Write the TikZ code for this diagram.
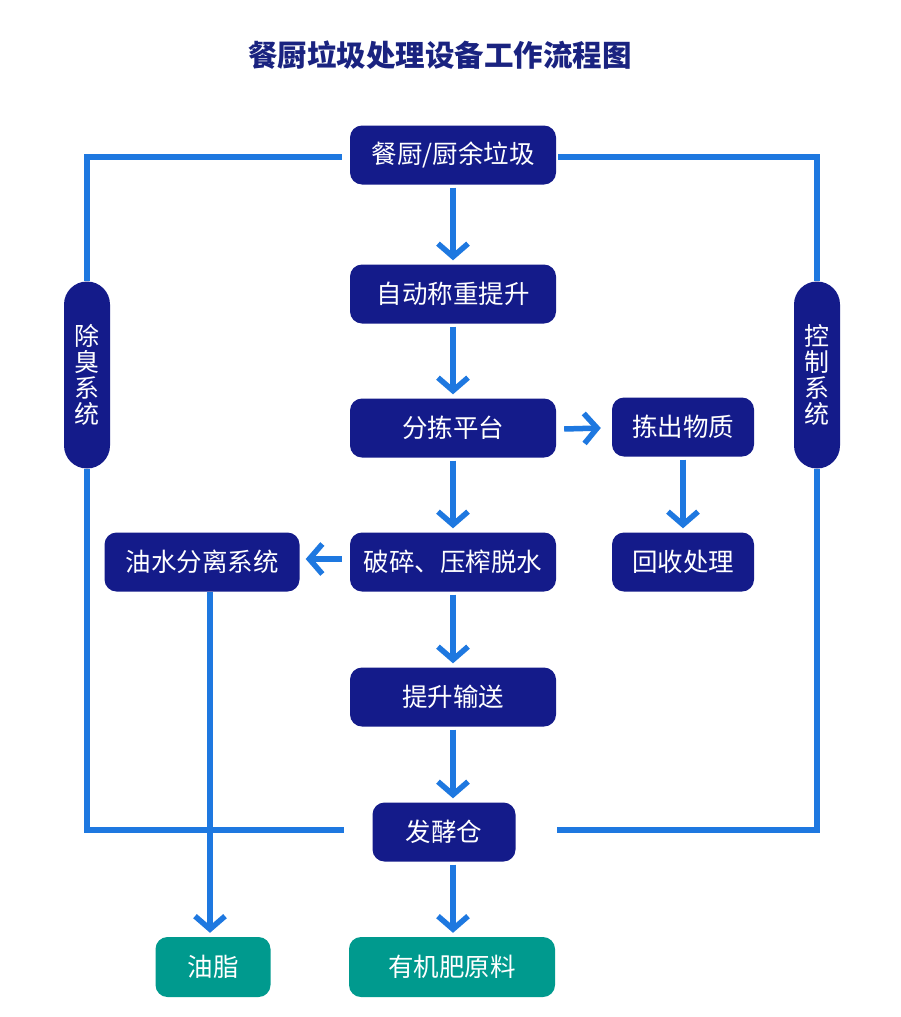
\documentclass[tikz,border=0pt]{standalone}
\usepackage{fontspec}
\setmainfont{Noto Sans CJK SC}
\usetikzlibrary{arrows.meta,calc}
\definecolor{navy}{HTML}{141B8A}
\definecolor{lineblue}{HTML}{1E78E0}
\definecolor{teal2}{HTML}{009A8E}
\definecolor{titlec}{HTML}{1A2380}
\begin{document}
\begin{tikzpicture}[x=1pt,y=-1pt,
  box/.style={fill=navy,text=white,rounded corners=12pt,minimum height=59pt,inner sep=0pt,font=\fontsize{25.5}{28}\selectfont},
  gbox/.style={box,fill=teal2},
  pill/.style={fill=navy,text=white,rounded corners=23pt,minimum width=46pt,minimum height=187pt,inner sep=0pt,font=\fontsize{25}{26}\selectfont,align=center},
  flow/.style={draw=lineblue,line width=5.5pt,-{Straight Barb[length=13pt,width=30pt,line width=5.5pt]}},
  link/.style={draw=lineblue,line width=5.5pt}]
\path[fill=white,use as bounding box] (0,0) rectangle (900,1017);
\node[text=titlec,font=\bfseries\fontsize{29.5}{32}\selectfont] (title) at (440,55) {餐厨垃圾处理设备工作流程图};
\node[box,minimum width=206pt] (n1) at (453,155) {餐厨/厨余垃圾};
\node[box,minimum width=206pt] (n2) at (453,294) {自动称重提升};
\node[box,minimum width=206pt] (n3) at (453,428) {分拣平台};
\node[box,minimum width=142pt] (n4) at (683,427) {拣出物质};
\node[box,minimum width=142pt] (n5) at (683,562) {回收处理};
\node[box,minimum width=206pt] (n6) at (453,562) {破碎、压榨脱水};
\node[box,minimum width=195pt] (n7) at (202,562) {油水分离系统};
\node[box,minimum width=206pt] (n8) at (453,697) {提升输送};
\node[box,minimum width=143pt] (n9) at (444,832) {发酵仓};
\node[gbox,minimum width=115pt,minimum height=60pt] (n10) at (213,967) {油脂};
\node[gbox,minimum width=206pt,minimum height=60pt] (n11) at (452,967) {有机肥原料};
\node[pill] (lp) at (87,375) {除\\臭\\系\\统};
\node[pill] (rp) at (817,375) {控\\制\\系\\统};
% flow arrows
\draw[flow] ($(n1.south)+(0,3)$) -- ($(n2.north)+(0,-4)$);
\draw[flow] ($(n2.south)+(0,3)$) -- ($(n3.north)+(0,-4)$);
\draw[flow] ($(n3.south)+(0,3)$) -- ($(n6.north)+(0,-4)$);
\draw[flow] ($(n6.south)+(0,3)$) -- ($(n8.north)+(0,-4)$);
\draw[flow] (n8.south -| n9.north) ++(9,3) coordinate (a8) -- ($(n9.north)+(9,-4)$);
\draw[flow] ($(n9.south)+(9,3)$) -- ($(n11.north)+(1,-4)$);
\draw[flow] ($(n3.east)+(8,1)$) -- ($(n4.west)+(-11,1)$);
\draw[flow] ($(n4.south)+(0,3)$) -- ($(n5.north)+(0,-4)$);
\draw[flow] ($(n6.west)+(-8,-3)$) -- ($(n7.west)!1!(n7.east)+(6,-3)$);
\draw[flow] (n7.south -| n10.north) ++(-3,0) -- ($(n10.north)+(-3,-4)$);
% side links
\draw[link] ($(n1.west)+(-8,2)$) -| (lp.north);
\draw[link] (lp.south) |- ($(n9.west)+(-28,-2)$);
\draw[link] ($(n1.east)+(2,2)$) -| (rp.north);
\draw[link] (rp.south) |- ($(n9.east)+(41,-2)$);
\end{tikzpicture}
\end{document}
